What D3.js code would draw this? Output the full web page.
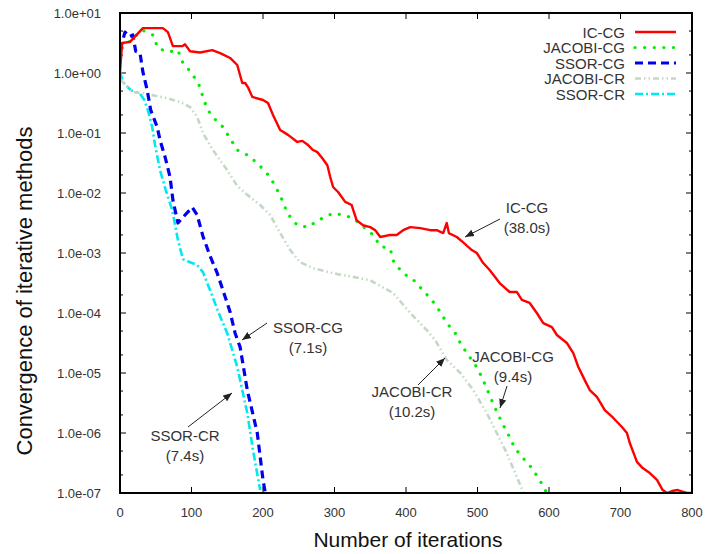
<!DOCTYPE html>
<html><head><meta charset="utf-8">
<script src="https://cdn.jsdelivr.net/npm/d3@7"></script>
<style>body{margin:0;background:#fff}svg{display:block}text{font-family:"Liberation Sans",Arial,sans-serif}</style>
</head><body><svg id="c" width="718" height="554"></svg>
<script>
const xTicks=[0,100,200,300,400,500,600,700,800];
const yTicks=[1e1,1e0,1e-1,1e-2,1e-3,1e-4,1e-5,1e-6,1e-7];
const yTickLabels=["1.0e+01","1.0e+00","1.0e-01","1.0e-02","1.0e-03","1.0e-04","1.0e-05","1.0e-06","1.0e-07"];
const seriesNames=["IC-CG","JACOBI-CG","SSOR-CG","JACOBI-CR","SSOR-CR"];
const icCG=[[0,1.04],[3,3.16],[14,3.3],[32,5.6],[60,5.6],[67,4.8],[74,2.8],[87,2.8],[91,3.0],[98,2.3],[112,2.2],[129,2.4],[140,2.15],[154,1.78],[164,1.36],[171,0.68],[175,0.68],[179,0.58],[185,0.4],[200,0.355],[207,0.316],[214,0.2],[224,0.112],[235,0.093],[248,0.071],[255,0.074],[263,0.063],[270,0.052],[276,0.048],[283,0.038],[290,0.029],[294,0.0185],[298,0.0126],[305,0.0104],[315,0.0071],[324,0.0063],[331,0.0035],[340,0.0029],[350,0.0027],[357,0.0024],[364,0.00185],[378,0.002],[387,0.002],[396,0.0024],[406,0.0027],[420,0.0026],[434,0.0024],[443,0.0024],[452,0.00215],[457,0.00316],[460,0.00215],[471,0.00185],[480,0.0015],[492,0.00112],[499,0.001],[508,0.00068],[517,0.00052],[531,0.000316],[545,0.000224],[555,0.000224],[562,0.000165],[573,0.000147],[583,1.0e-4],[592,6.8e-5],[604,5.8e-5],[611,4.3e-5],[625,3.16e-5],[634,2.15e-5],[641,1.26e-5],[650,7.6e-6],[657,5.2e-6],[667,4.0e-6],[678,2.4e-6],[690,1.78e-6],[702,1.26e-6],[709,1.0e-6],[713,6.8e-7],[723,3.3e-7],[731,2.6e-7],[741,2.15e-7],[751,1.65e-7],[759,1.12e-7],[765,1.0e-7],[772,1.08e-7],[780,1.12e-7],[787,1.05e-7],[793,1.0e-7],[800,1.0e-7]];
const jacobiCG=[[3,2.6],[31,5.2],[46,4.3],[53,2.6],[67,2.24],[81,2.4],[88,1.47],[99,1.04],[110,0.66],[116,0.4],[122,0.25],[131,0.178],[144,0.126],[164,0.052],[178,0.043],[192,0.0316],[210,0.0185],[220,0.0112],[228,0.0071],[234,0.0046],[248,0.0029],[263,0.0027],[277,0.0035],[298,0.0046],[312,0.0043],[326,0.0038],[338,0.0029],[354,0.002],[364,0.0013],[378,0.00117],[383,0.0007],[396,0.00046],[411,0.00035],[436,0.000165],[448,1.04e-4],[457,6.8e-5],[469,4.6e-5],[476,3.16e-5],[485,2.15e-5],[497,1.36e-5],[506,8.6e-6],[520,3.5e-6],[527,2.24e-6],[536,1.36e-6],[545,8.6e-7],[552,5.6e-7],[564,3.8e-7],[576,2.6e-7],[587,1.65e-7],[596,1.04e-7]];
const ssorCG=[[0,2.4],[7,4.8],[13,4.0],[18,4.3],[22,2.3],[28,2.15],[32,1.04],[38,0.52],[43,0.24],[52,0.126],[56,0.076],[63,0.04],[70,0.0185],[74,0.0076],[81,0.00316],[91,0.0043],[101,0.0058],[108,0.0043],[116,0.0019],[126,0.00089],[136,0.00046],[144,0.00024],[154,1.04e-4],[161,4.6e-5],[168,2.7e-5],[178,5.2e-6],[192,1.0e-6],[200,1.65e-7],[203,1.04e-7]];
const jacobiCR=[[1,0.76],[18,0.48],[32,0.46],[66,0.38],[84,0.33],[98,0.27],[108,0.185],[116,0.1],[130,0.052],[150,0.024],[164,0.0131],[178,0.0093],[196,0.0063],[210,0.0043],[224,0.00215],[238,0.00112],[252,0.0007],[270,0.00056],[298,0.00046],[326,0.0004],[350,0.00035],[382,0.000215],[406,1.0e-4],[429,5.2e-5],[441,3.5e-5],[457,1.65e-5],[476,1.0e-5],[494,5.2e-6],[513,2.15e-6],[527,1.0e-6],[541,4.6e-7],[555,1.85e-7],[564,1.04e-7]];
const ssorCR=[[0,1.04],[4,0.71],[15,0.52],[28,0.45],[34,0.355],[39,0.24],[45,0.126],[49,0.063],[56,0.024],[64,0.0112],[73,0.0052],[81,0.00165],[88,0.00079],[98,0.0007],[108,0.00063],[116,0.00048],[126,0.00024],[138,1.0e-4],[150,4.6e-5],[164,1.26e-5],[178,2.15e-6],[186,5.2e-7],[196,1.12e-7]];
const notes=[
 {t1:"IC-CG",t2:"(38.0s)",at:[527,208],from:[500,219],to:[465,237]},
 {t1:"SSOR-CG",t2:"(7.1s)",at:[308,328],from:[267,323],to:[242,340]},
 {t1:"SSOR-CR",t2:"(7.4s)",at:[185,436],from:[188,427],to:[232,393]},
 {t1:"JACOBI-CG",t2:"(9.4s)",at:[513,357],from:[507,386],to:[500,408]},
 {t1:"JACOBI-CR",t2:"(10.2s)",at:[412,392],from:[418,385],to:[445,358]}
];

const svg=d3.select("#c");
const L=120,R=692,T=13,B=493;
const x=d3.scaleLinear().domain([0,800]).range([L,R]);
const y=d3.scaleLog().domain([1e-7,10]).range([B,T]);

const styles=[
 {data:icCG,color:"#ff0000",w:2.4,dash:null,cap:"butt"},
 {data:jacobiCG,color:"#00ee00",w:3.2,dash:"0.1,9.5",cap:"round"},
 {data:ssorCG,color:"#0000ee",w:3.2,dash:"8,5",cap:"butt"},
 {data:jacobiCR,color:"#c4d9c4",w:2.6,dash:"6,3,1.5,3,1.5,3",cap:"butt"},
 {data:ssorCR,color:"#00e8f0",w:2.6,dash:"8,3,2,3",cap:"butt"}
];

svg.append("defs").append("clipPath").attr("id","clip").append("rect")
 .attr("x",L).attr("y",T-3).attr("width",R-L).attr("height",B-T+3);
svg.select("defs").append("marker").attr("id","arr").attr("viewBox","0 0 10 10")
 .attr("refX",10).attr("refY",5).attr("markerWidth",9).attr("markerHeight",9)
 .attr("markerUnits","userSpaceOnUse").attr("orient","auto")
 .append("path").attr("d","M0,1 L10,5 L0,9 Z").attr("fill","#222");

// minor ticks
const minor=[];
for(let e=-7;e<1;e++){[2,5].forEach(m=>minor.push(m*Math.pow(10,e)));}
const gt=svg.append("g").attr("stroke","#000").attr("stroke-width",1);
minor.forEach(v=>{
 gt.append("line").attr("x1",L).attr("x2",L+3).attr("y1",y(v)).attr("y2",y(v));
 gt.append("line").attr("x1",R).attr("x2",R-3).attr("y1",y(v)).attr("y2",y(v));
});
yTicks.forEach(v=>{
 gt.append("line").attr("x1",L).attr("x2",L+6).attr("y1",y(v)).attr("y2",y(v));
 gt.append("line").attr("x1",R).attr("x2",R-6).attr("y1",y(v)).attr("y2",y(v));
});
xTicks.forEach(v=>{
 gt.append("line").attr("x1",x(v)).attr("x2",x(v)).attr("y1",B).attr("y2",B-6);
 gt.append("line").attr("x1",x(v)).attr("x2",x(v)).attr("y1",T).attr("y2",T+6);
});

// lines
const line=d3.line().x(d=>x(d[0])).y(d=>y(d[1]));
const gl=svg.append("g").attr("clip-path","url(#clip)");
styles.slice().reverse().forEach(s=>{
 gl.append("path").datum(s.data).attr("d",line).attr("fill","none")
  .attr("stroke",s.color).attr("stroke-width",s.w).attr("stroke-linejoin","round")
  .attr("stroke-linecap",s.cap).attr("stroke-dasharray",s.dash);
});

// frame
svg.append("rect").attr("x",L).attr("y",T).attr("width",R-L).attr("height",B-T)
 .attr("fill","none").attr("stroke","#000").attr("stroke-width",2);

// tick labels
svg.append("g").selectAll("text").data(yTicks).join("text")
 .attr("x",L-19).attr("y",d=>y(d)+4.5).attr("text-anchor","end")
 .attr("font-size",13).attr("fill","#333").text((d,i)=>yTickLabels[i]);
svg.append("g").selectAll("text").data(xTicks).join("text")
 .attr("x",d=>x(d)).attr("y",B+24).attr("text-anchor","middle")
 .attr("font-size",13).attr("fill","#333").text(d=>d);

// axis titles
svg.append("text").attr("x",408).attr("y",547).attr("text-anchor","middle")
 .attr("font-size",21).attr("fill","#111").text("Number of iterations");
svg.append("text").attr("transform","translate(32,291) rotate(-90)").attr("text-anchor","middle")
 .attr("font-size",22).attr("fill","#111").text("Convergence of iterative methods");

// legend
const lg=svg.append("g");
styles.forEach((s,i)=>{
 const yy=32+i*15.5;
 lg.append("text").attr("x",625).attr("y",yy+5.5).attr("text-anchor","end")
  .attr("font-size",15).attr("fill","#333").text(seriesNames[i]);
 lg.append("line").attr("x1",635).attr("x2",676).attr("y1",yy).attr("y2",yy)
  .attr("stroke",s.color).attr("stroke-width",s.w).attr("stroke-linecap",s.cap)
  .attr("stroke-dasharray",s.dash);
});

// annotations
const ga=svg.append("g");
notes.forEach(n=>{
 ga.append("text").attr("x",n.at[0]).attr("y",n.at[1]+5).attr("text-anchor","middle")
  .attr("font-size",15).attr("fill","#333").text(n.t1);
 ga.append("text").attr("x",n.at[0]).attr("y",n.at[1]+25).attr("text-anchor","middle")
  .attr("font-size",15).attr("fill","#333").text(n.t2);
 ga.append("line").attr("x1",n.from[0]).attr("y1",n.from[1]).attr("x2",n.to[0]).attr("y2",n.to[1])
  .attr("stroke","#222").attr("stroke-width",1).attr("marker-end","url(#arr)");
});
</script></body></html>
